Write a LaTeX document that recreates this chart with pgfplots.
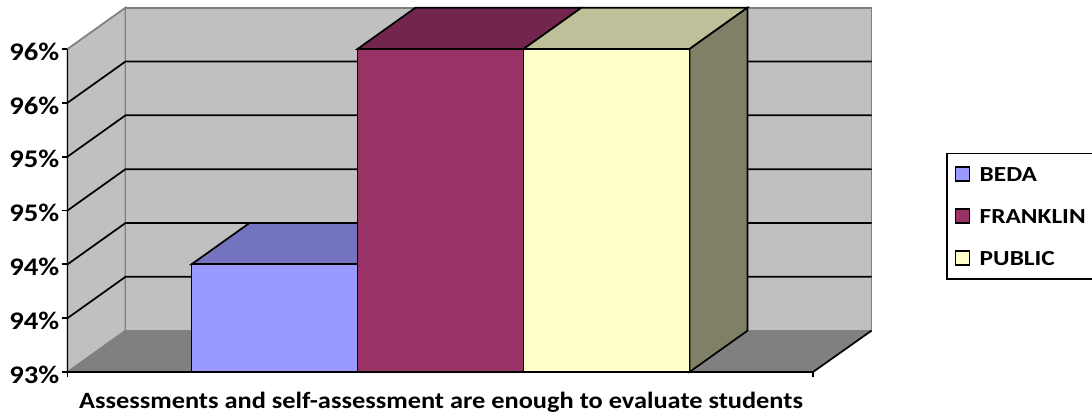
\documentclass[border=0pt]{standalone}
\usepackage{fontspec}
\setmainfont{Carlito}
\newfontfamily\lblfont[FakeStretch=1.13]{Carlito}
\newfontfamily\legfont[FakeStretch=1.18]{Carlito}
\usepackage{pgfplots}
\pgfplotsset{compat=1.18}
\definecolor{wallc}{HTML}{C0C0C0}
\definecolor{floorc}{HTML}{808080}
\definecolor{bedaf}{HTML}{9999FF}
\definecolor{bedat}{HTML}{7373BF}
\definecolor{frankf}{HTML}{993366}
\definecolor{frankt}{HTML}{73264D}
\definecolor{pubf}{HTML}{FFFFCC}
\definecolor{pubt}{HTML}{BFBF99}
\definecolor{pubs}{HTML}{808066}
\begin{document}
\begin{tikzpicture}
\begin{axis}[
  at={(0,0)}, anchor=south west,
  scale only axis, width=559.125pt, height=242.25pt,
  xmin=67.5, xmax=813, ymin=93, ymax=96,
  clip=false, axis on top=true,
  axis x line*=bottom, axis y line*=left,
  axis line style={-, line width=1.4pt, black},
  every tick/.style={black, line width=1.4pt},
  tick align=outside, major tick length=4pt,
  tick pos=lower,
  ytick={93,93.5,94,94.5,95,95.5,96},
  yticklabels={93\%,94\%,94\%,95\%,95\%,96\%,96\%},
  yticklabel style={font=\lblfont\fontsize{19pt}{19pt}\selectfont\bfseries, inner sep=2pt, yshift=-2pt},
  xtick={67.5,813}, xticklabels={,},
  xlabel={Assessments and self-assessment are enough to evaluate students},
  xlabel style={at={(axis description cs:0.501,-0.0945)}, anchor=center, font=\lblfont\fontsize{17.5pt}{17.5pt}\selectfont\bfseries},
  legend style={at={(axis description cs:1.1784,0.6795)}, anchor=north west,
    draw=black, line width=1.3pt, inner xsep=6pt, inner ysep=8pt, row sep=16.5pt,
    nodes={font=\legfont\fontsize{16.1pt}{16.1pt}\selectfont\bfseries, text width=90pt, text height=11pt, text depth=0pt, anchor=west, align=left}},
  legend image code/.code={\draw[#1, draw=black, line width=1.2pt] (0pt,-5.2pt) rectangle (10.5pt,5.2pt); \path (15.4pt,0);},
  legend cell align=left,
]
% walls and floor
\addplot[forget plot, fill=wallc, draw=floorc, line width=1.3pt] coordinates {(67.5,93) (125.5,93.384) (125.5,96.384) (67.5,96)} --cycle;
\addplot[forget plot, fill=wallc, draw=floorc, line width=1.3pt] coordinates {(125.5,93.384) (871.5,93.384) (871.5,96.384) (125.5,96.384)} --cycle;
\addplot[forget plot, fill=floorc, draw=none] coordinates {(67.5,93) (125.5,93.384) (871.5,93.384) (813,93)} --cycle;
\addplot[forget plot, draw=black, line width=1.3pt] coordinates {(813,93) (871.5,93.384)};
% gridlines
\addplot[forget plot, draw=black, line width=1.3pt, unbounded coords=jump] coordinates {
 (67.5,93.5) (125.5,93.884) (871.5,93.884) (nan,nan)
 (67.5,94) (125.5,94.384) (871.5,94.384) (nan,nan)
 (67.5,94.5) (125.5,94.884) (871.5,94.884) (nan,nan)
 (67.5,95) (125.5,95.384) (871.5,95.384) (nan,nan)
 (67.5,95.5) (125.5,95.884) (871.5,95.884)};
% BEDA = 94
\addplot[forget plot, fill=bedat, draw=black, line width=1.3pt] coordinates {(191.5,94) (249.5,94.384) (415.5,94.384) (357.5,94)} --cycle;
\addplot[fill=bedaf, draw=black, line width=1.3pt] coordinates {(191.5,93) (191.5,94) (357.5,94) (357.5,93)} --cycle;
\addlegendentry{BEDA}
% FRANKLIN = 96
\addplot[forget plot, fill=frankt, draw=black, line width=1.3pt] coordinates {(357.5,96) (415.5,96.384) (581.5,96.384) (523.5,96)} --cycle;
\addplot[fill=frankf, draw=black, line width=1.3pt] coordinates {(357.5,93) (357.5,96) (523.5,96) (523.5,93)} --cycle;
\addlegendentry{FRANKLIN}
% PUBLIC = 96
\addplot[forget plot, fill=pubt, draw=black, line width=1.3pt] coordinates {(523.5,96) (581.5,96.384) (747.5,96.384) (689.5,96)} --cycle;
\addplot[forget plot, fill=pubs, draw=black, line width=1.3pt] coordinates {(689.5,93) (747.5,93.384) (747.5,96.384) (689.5,96)} --cycle;
\addplot[fill=pubf, draw=black, line width=1.3pt] coordinates {(523.5,93) (523.5,96) (689.5,96) (689.5,93)} --cycle;
\addlegendentry{PUBLIC}
\end{axis}
\pgfresetboundingbox
\path[use as bounding box] (-50.625pt,-34.5pt) rectangle (768.375pt,279pt);
\end{tikzpicture}
\end{document}
